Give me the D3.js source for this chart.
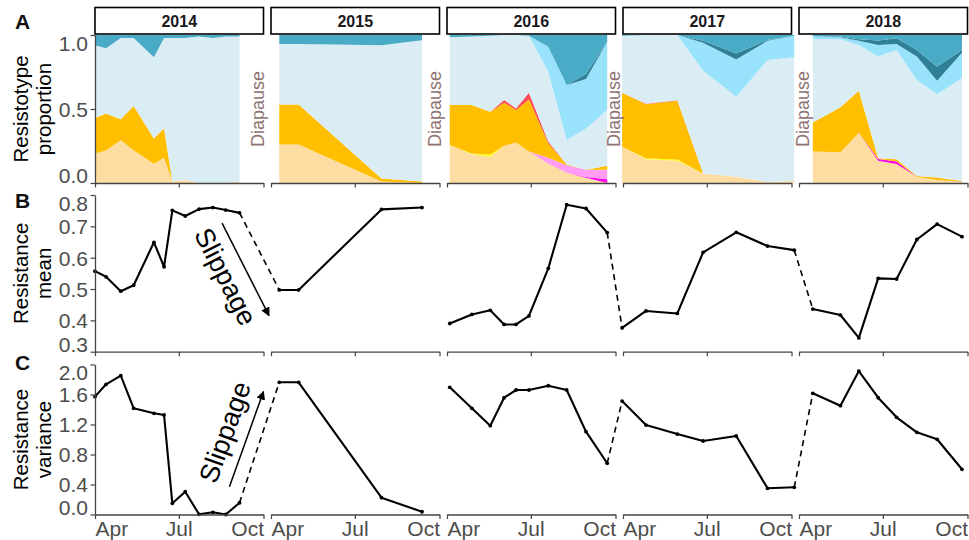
<!DOCTYPE html>
<html>
<head>
<meta charset="utf-8">
<script src="https://cdn.jsdelivr.net/npm/d3@7"></script>
<style>
  body { margin: 0; background: #fff; }
  text { font-family: "Liberation Sans", Arial, Helvetica, sans-serif; }
</style>
</head>
<body>
<svg id="chart" width="969" height="540"></svg>
<script>
// ---- data -------------------------------------------------------------
const years = [2014, 2015, 2016, 2017, 2018];

// sampling dates (month-day) for each season
const dates2014 = ["04-01","04-13","04-29","05-13","06-04","06-15","06-24","07-08","07-23","08-07","08-21","09-05"];
const dates2015 = ["04-10","05-01","07-30","09-12"];
const dates2016 = ["04-04","04-28","05-18","06-02","06-15","06-29","07-20","08-09","08-30","09-22"];
const dates2017 = ["03-31","04-26","05-30","06-27","08-02","09-05","10-04"];
const dates2018 = ["04-16","05-16","06-05","06-26","07-16","08-07","08-29","09-25"];

// resistance mean per sample
const mean2014 = [0.557, 0.539, 0.493, 0.512, 0.649, 0.571, 0.751, 0.733, 0.755, 0.760, 0.752, 0.743];
const mean2015 = [0.497, 0.497, 0.754, 0.760];
const mean2016 = [0.390, 0.419, 0.432, 0.387, 0.387, 0.414, 0.566, 0.769, 0.757, 0.680];
const mean2017 = [0.376, 0.430, 0.422, 0.617, 0.681, 0.637, 0.624];
const mean2018 = [0.436, 0.417, 0.344, 0.534, 0.532, 0.658, 0.707, 0.667];

// resistance variance per sample
const var2014 = [1.571, 1.736, 1.851, 1.416, 1.349, 1.327, 0.149, 0.304, 0.003, 0.029, 0.000, 0.157];
const var2015 = [1.763, 1.763, 0.224, 0.037];
const var2016 = [1.696, 1.416, 1.184, 1.557, 1.660, 1.660, 1.717, 1.660, 1.104, 0.683];
const var2017 = [1.513, 1.193, 1.073, 0.980, 1.047, 0.349, 0.363];
const var2018 = [1.616, 1.451, 1.913, 1.557, 1.296, 1.096, 1.003, 0.603];

// resistotypes, stacked from the bottom up
const resistotypes = ["R1", "R2", "R3", "R4", "R5", "R6", "R7", "R8", "R9", "R10"];
const typeColors = ["#FDDDA2", "#FF00F0", "#FF9CF5", "#FFFF1A", "#FFBF00", "#FF4A5A",
                    "#DAEDF4", "#99E2FB", "#2F7F97", "#4AABC6"];

// resistotype proportions per sample (columns follow `resistotypes`)
const props2014 = [
  [0.20, 0, 0, 0, 0.24, 0, 0.49, 0, 0, 0.07],
  [0.22, 0, 0, 0, 0.25, 0, 0.44, 0, 0, 0.09],
  [0.29, 0, 0, 0, 0.14, 0, 0.55, 0, 0, 0.02],
  [0.22, 0, 0, 0, 0.30, 0, 0.46, 0, 0, 0.02],
  [0.13, 0, 0, 0, 0.17, 0, 0.55, 0, 0, 0.15],
  [0.17, 0, 0, 0, 0.20, 0, 0.61, 0, 0, 0.02],
  [0.01, 0, 0, 0, 0.00, 0, 0.97, 0, 0, 0.02],
  [0.02, 0, 0, 0, 0.00, 0, 0.96, 0, 0, 0.02],
  [0.00, 0, 0, 0, 0.00, 0, 0.99, 0, 0, 0.01],
  [0.00, 0, 0, 0, 0.00, 0, 0.98, 0, 0, 0.02],
  [0.00, 0, 0, 0, 0.00, 0, 0.99, 0, 0, 0.01],
  [0.01, 0, 0, 0, 0.00, 0, 0.98, 0, 0, 0.01]
];
const props2015 = [
  [0.26, 0, 0, 0, 0.27, 0, 0.410, 0, 0, 0.060],
  [0.26, 0, 0, 0, 0.27, 0, 0.410, 0, 0, 0.060],
  [0.01, 0, 0, 0, 0.02, 0, 0.900, 0, 0, 0.070],
  [0.00, 0, 0, 0, 0.01, 0, 0.955, 0, 0, 0.035]
];
const props2016 = [
  [0.257, 0,     0,     0,     0.270, 0,     0.458, 0,     0,     0.015],
  [0.194, 0,     0,     0.005, 0.328, 0,     0.463, 0,     0,     0.010],
  [0.178, 0,     0,     0.015, 0.289, 0,     0.513, 0,     0,     0.005],
  [0.252, 0,     0,     0,     0.291, 0.018, 0.439, 0,     0,     0    ],
  [0.273, 0,     0,     0,     0.220, 0.012, 0.495, 0,     0,     0    ],
  [0.212, 0,     0,     0,     0.353, 0.045, 0.385, 0,     0,     0.005],
  [0.130, 0,     0.040, 0,     0.098, 0.012, 0.472, 0.169, 0,     0.079],
  [0.070, 0,     0.050, 0,     0.005, 0,     0.165, 0.372, 0,     0.338],
  [0.035, 0.005, 0.050, 0,     0,     0,     0.279, 0.333, 0.034, 0.264],
  [0.000, 0.025, 0.065, 0,     0.027, 0,     0.376, 0.462, 0,     0.045]
];
const props2017 = [
  [0.245, 0, 0, 0,     0.365, 0,     0.385, 0,     0,     0.005],
  [0.160, 0, 0, 0.007, 0.365, 0.003, 0.465, 0,     0,     0    ],
  [0.151, 0, 0, 0.007, 0.398, 0.003, 0.441, 0,     0,     0    ],
  [0.065, 0, 0, 0,     0,     0,     0.694, 0.189, 0.013, 0.039],
  [0.043, 0, 0, 0,     0,     0,     0.540, 0.252, 0.040, 0.125],
  [0.007, 0, 0, 0,     0,     0,     0.824, 0.130, 0.005, 0.034],
  [0.014, 0, 0, 0,     0,     0,     0.835, 0.146, 0,     0.005]
];
const props2018 = [
  [0.212, 0,     0,     0, 0.196, 0, 0.565, 0.020, 0,     0.007],
  [0.207, 0,     0,     0, 0.304, 0, 0.460, 0.014, 0.005, 0.010],
  [0.340, 0,     0,     0, 0.284, 0, 0.308, 0.029, 0.010, 0.029],
  [0.151, 0.011, 0,     0, 0.005, 0, 0.687, 0.079, 0.029, 0.038],
  [0.128, 0.018, 0,     0, 0.014, 0, 0.739, 0.041, 0.038, 0.022],
  [0.043, 0,     0,     0, 0.005, 0, 0.648, 0.158, 0.045, 0.101],
  [0.020, 0,     0,     0, 0.018, 0, 0.561, 0.092, 0.095, 0.214],
  [0.005, 0,     0.004, 0, 0.004, 0, 0.694, 0.173, 0.018, 0.102]
];

const yTicksA = [0, 0.5, 1];
const yTicksB = [0.3, 0.4, 0.5, 0.6, 0.7, 0.8];
const yTicksC = [0, 0.4, 0.8, 1.2, 1.6, 2.0];
const monthTicks = ["04-01", "07-01", "10-01"];

// diapause marks: [year, month-day] placed at the end/start of a season
const diapauseMarks = [[2014, "09-25"], [2015, "09-26"], [2016, "09-29"], [2018, "04-05"]];

// seasons joined across winter by a dashed segment
const slippageLinks = [[2014, 2015], [2016, 2017], [2017, 2018]];

// ---- layout -----------------------------------------------------------
const svg = d3.select("#chart");
const parse = d3.timeParse("%Y-%m-%d");
const PANEL_W = 168.5, GAP = 7.5, LEFT0 = 95;
const AXIS_COLOR = "#444", TEXT_COLOR = "#4D4D4D";
const TICK_FONT = 21;

const datesBy = {2014: dates2014, 2015: dates2015, 2016: dates2016, 2017: dates2017, 2018: dates2018};
const meanBy  = {2014: mean2014, 2015: mean2015, 2016: mean2016, 2017: mean2017, 2018: mean2018};
const varBy   = {2014: var2014, 2015: var2015, 2016: var2016, 2017: var2017, 2018: var2018};
const propsBy = {2014: props2014, 2015: props2015, 2016: props2016, 2017: props2017, 2018: props2018};

const xBy = {};
years.forEach((yr, i) => {
  const left = LEFT0 + i * (PANEL_W + GAP);
  xBy[yr] = d3.scaleTime()
    .domain([parse(yr + "-04-01"), parse(yr + "-10-01")])
    .range([left, left + PANEL_W]);
});

const yA = d3.scaleLinear().domain([0, 1]).range([183, 35]);
const yB = d3.scaleLinear().domain([0.3, 0.8]).range([351.7, 195]);
const yC = d3.scaleLinear().domain([0, 2]).range([514.5, 364.5]);

// ---- panel A: stacked resistotype proportions -------------------------
const stack = d3.stack().keys(resistotypes);
years.forEach(yr => {
  const x = xBy[yr];
  const table = propsBy[yr].map((row, j) => {
    const rec = {date: parse(yr + "-" + datesBy[yr][j])};
    resistotypes.forEach((k, c) => rec[k] = row[c]);
    return rec;
  });
  const layers = stack(table);
  const area = d3.area()
    .x(d => x(d.data.date))
    .y0(d => yA(d[0]))
    .y1(d => yA(d[1]));
  svg.append("g").selectAll("path")
    .data(layers)
    .join("path")
    .attr("d", area)
    .attr("fill", (d, i) => typeColors[i]);
});

// strips with the season year
years.forEach(yr => {
  const [x0, x1] = xBy[yr].range();
  const g = svg.append("g");
  g.append("rect")
    .attr("x", x0).attr("y", 7.5)
    .attr("width", x1 - x0).attr("height", 26.5)
    .attr("fill", "#fff").attr("stroke", "#000").attr("stroke-width", 1.6);
  g.append("text")
    .attr("x", (x0 + x1) / 2).attr("y", 26.5)
    .attr("text-anchor", "middle")
    .attr("font-size", 16).attr("font-weight", "bold")
    .attr("fill", "#1a1a1a")
    .text(yr);
});

// diapause annotations
diapauseMarks.forEach(([yr, md]) => {
  const x = xBy[yr](parse(yr + "-" + md));
  svg.append("text")
    .attr("transform", `translate(${x},${yA(0.5)}) rotate(-90)`)
    .attr("text-anchor", "middle")
    .attr("dy", "0.36em")
    .attr("font-size", 18)
    .attr("fill", "#8E7272")
    .text("Diapause");
});

// ---- panels B and C: mean and variance lines ---------------------------
function drawSeries(valuesBy, y) {
  const pts = yr => datesBy[yr].map((md, j) => [xBy[yr](parse(yr + "-" + md)), y(valuesBy[yr][j])]);
  const line = d3.line();
  years.forEach(yr => {
    const p = pts(yr);
    svg.append("path")
      .attr("d", line(p))
      .attr("fill", "none").attr("stroke", "#000")
      .attr("stroke-width", 2.1).attr("stroke-linejoin", "round");
    svg.append("g").selectAll("circle")
      .data(p).join("circle")
      .attr("cx", d => d[0]).attr("cy", d => d[1]).attr("r", 1.9)
      .attr("fill", "#000");
  });
  slippageLinks.forEach(([a, b]) => {
    const pa = pts(a), pb = pts(b);
    svg.append("path")
      .attr("d", line([pa[pa.length - 1], pb[0]]))
      .attr("fill", "none").attr("stroke", "#000")
      .attr("stroke-width", 1.6).attr("stroke-dasharray", "6,4.5");
  });
}
drawSeries(meanBy, yB);
drawSeries(varBy, yC);

// ---- axes ---------------------------------------------------------------
function styleAxis(g) {
  g.selectAll(".domain").attr("stroke", AXIS_COLOR).attr("stroke-width", 1.3);
  g.selectAll(".tick line").attr("stroke", AXIS_COLOR).attr("stroke-width", 1.2);
  g.selectAll(".tick text").attr("fill", TEXT_COLOR)
    .attr("font-family", '"Liberation Sans", Arial, sans-serif');
}

const rows = [
  {y: yA, ticks: yTicksA, fmt: d3.format(".1f"), labels: false},
  {y: yB, ticks: yTicksB, fmt: d3.format(".1f"), labels: false},
  {y: yC, ticks: yTicksC, fmt: d3.format(".1f"), labels: true}
];

rows.forEach(row => {
  const yBase = row.y.range()[0];
  years.forEach(yr => {
    const x = xBy[yr];
    const ax = d3.axisBottom(x)
      .tickValues(monthTicks.map(md => parse(yr + "-" + md)))
      .tickSize(4.5).tickSizeOuter(0).tickPadding(2)
      .tickFormat(row.labels ? d3.timeFormat("%b") : () => "");
    const g = svg.append("g").attr("transform", `translate(0,${yBase})`).call(ax);
    styleAxis(g);
    g.selectAll(".tick text").attr("font-size", TICK_FONT)
      .attr("text-anchor", (d, i) => i === 0 ? "start" : (i === 2 ? "end" : "middle"));
  });
  // left axis on the first season only; end labels are kept inside the axis span
  const yAx = d3.axisLeft(row.y).tickValues(row.ticks).tickFormat(row.fmt)
    .tickSize(4.5).tickSizeOuter(0).tickPadding(2.5);
  const gy = svg.append("g").attr("transform", `translate(${LEFT0},0)`).call(yAx);
  styleAxis(gy);
  const n = row.ticks.length;
  gy.selectAll(".tick text").attr("font-size", TICK_FONT)
    .attr("dy", (d, i) => {
      if (i === 0) return "-0.02em";
      if (i === n - 1) return "0.72em";
      return "0.35em";
    });
});

// ---- axis titles and panel letters --------------------------------------
const titles = [
  {lines: ["Resistotype", "proportion"], y: yA},
  {lines: ["Resistance", "mean"], y: yB},
  {lines: ["Resistance", "variance"], y: yC}
];
titles.forEach(t => {
  const yc = (t.y.range()[0] + t.y.range()[1]) / 2;
  t.lines.forEach((s, i) => {
    svg.append("text")
      .attr("transform", `translate(${28 + i * 23},${yc}) rotate(-90)`)
      .attr("text-anchor", "middle")
      .attr("font-size", 20.5)
      .attr("fill", "#000")
      .text(s);
  });
});

[["A", 29], ["B", 208], ["C", 370]].forEach(([s, y]) => {
  svg.append("text")
    .attr("x", 15).attr("y", y)
    .attr("font-size", 21).attr("font-weight", "bold")
    .attr("fill", "#111")
    .text(s);
});

// ---- slippage arrows ------------------------------------------------------
svg.append("defs").append("marker")
  .attr("id", "arrowhead")
  .attr("viewBox", "0 0 10 10").attr("refX", 9).attr("refY", 5)
  .attr("markerWidth", 9).attr("markerHeight", 9)
  .attr("markerUnits", "userSpaceOnUse")
  .attr("orient", "auto")
  .append("path").attr("d", "M0,0 L10,5 L0,10 Z").attr("fill", "#000");

function slippageArrow(yr, y, from, to, textAt) {
  const x = xBy[yr];
  const x1 = x(parse(yr + "-" + from[0])), y1 = y(from[1]);
  const x2 = x(parse(yr + "-" + to[0])), y2 = y(to[1]);
  svg.append("line")
    .attr("x1", x1).attr("y1", y1).attr("x2", x2).attr("y2", y2)
    .attr("stroke", "#000").attr("stroke-width", 1.5)
    .attr("marker-end", "url(#arrowhead)");
  const ang = Math.atan2(y2 - y1, x2 - x1) * 180 / Math.PI;
  const tx = x(parse(yr + "-" + textAt[0])), ty = y(textAt[1]);
  svg.append("text")
    .attr("transform", `translate(${tx},${ty}) rotate(${ang})`)
    .attr("text-anchor", "middle").attr("dy", "0.35em")
    .attr("font-size", 27)
    .attr("fill", "#000")
    .text("Slippage");
}
// mean drops across the 2014-2015 winter
slippageArrow(2014, yB, ["08-17", 0.71], ["10-07", 0.415], ["08-21", 0.54]);
// variance rises across the same winter
slippageArrow(2014, yC, ["08-25", 0.37], ["10-01", 1.64], ["08-20", 1.10]);
</script>
</body>
</html>
